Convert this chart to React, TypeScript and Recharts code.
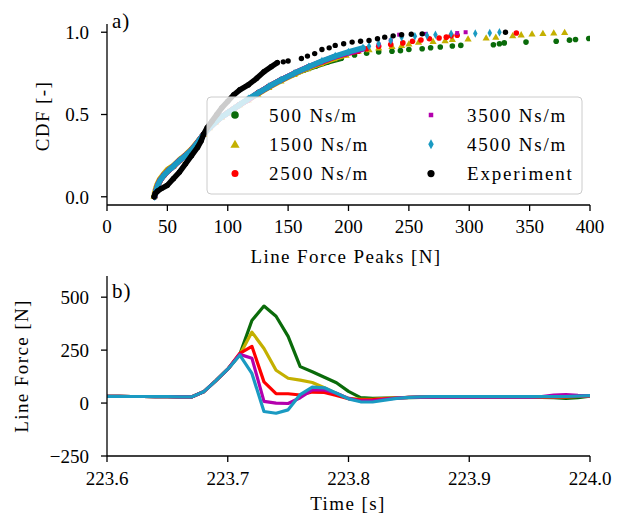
import React from 'react';
import { ScatterChart, Scatter, LineChart, Line, XAxis, YAxis } from 'recharts';

const FONT = '"Liberation Serif", "Times New Roman", serif';

const GREEN = '#0a6b0a';
const OLIVE = '#c4b000';
const RED = '#ff0000';
const MAGENTA = '#b300ad';
const CYAN = '#1a9ac2';
const BLACK = '#000000';

type Pt = [number, number];

// a) CDF of the line force peaks, [peak N, CDF -]
// dense lower part of each curve
const body500: Pt[] = [[39.5, 0], [40.5, 0.03], [42, 0.065], [44, 0.1], [47, 0.13], [51, 0.16], [55, 0.185], [60, 0.22], [65, 0.25], [70, 0.285], [75, 0.33], [80, 0.38], [85, 0.42], [90, 0.455], [95, 0.485], [100, 0.51], [105, 0.535], [110, 0.56], [117, 0.59], [125, 0.63], [134, 0.67], [144, 0.71], [153, 0.74], [163, 0.77], [173, 0.795], [183, 0.82], [194, 0.842]];
const body1500: Pt[] = [[39, 0.005], [40, 0.04], [41.5, 0.075], [43.5, 0.105], [46.5, 0.135], [50, 0.165], [55, 0.19], [60, 0.225], [65, 0.255], [70, 0.29], [75, 0.335], [80, 0.38], [85, 0.42], [90, 0.455], [95, 0.485], [100, 0.51], [105, 0.535], [110, 0.56], [117, 0.59], [125, 0.625], [134, 0.665], [144, 0.705], [155, 0.745], [166, 0.78], [177, 0.81], [188, 0.84], [198, 0.862]];
const body2500: Pt[] = [[39.5, 0], [40.5, 0.035], [42, 0.07], [44, 0.1], [47, 0.13], [51, 0.16], [55, 0.185], [60, 0.22], [65, 0.25], [70, 0.285], [75, 0.33], [80, 0.38], [85, 0.42], [90, 0.455], [95, 0.485], [100, 0.51], [105, 0.535], [110, 0.56], [117, 0.59], [125, 0.63], [134, 0.67], [144, 0.71], [155, 0.75], [167, 0.79], [178, 0.82], [188, 0.848], [198, 0.87], [208, 0.885]];
const body3500: Pt[] = [[39.5, 0], [40.5, 0.035], [42, 0.07], [44, 0.1], [47, 0.13], [51, 0.16], [55, 0.185], [60, 0.22], [65, 0.25], [70, 0.285], [75, 0.33], [80, 0.38], [85, 0.42], [90, 0.455], [95, 0.485], [100, 0.51], [105, 0.535], [110, 0.56], [117, 0.59], [125, 0.63], [134, 0.67], [144, 0.71], [155, 0.75], [167, 0.79], [178, 0.822], [188, 0.85], [200, 0.875], [212, 0.898]];
const body4500: Pt[] = [[39.5, 0], [40.5, 0.035], [42, 0.07], [44, 0.1], [47, 0.13], [51, 0.16], [55, 0.185], [60, 0.22], [65, 0.25], [70, 0.285], [75, 0.33], [80, 0.38], [85, 0.42], [90, 0.455], [95, 0.485], [100, 0.51], [105, 0.535], [110, 0.56], [117, 0.595], [125, 0.63], [134, 0.67], [144, 0.71], [155, 0.75], [167, 0.79], [178, 0.825], [189, 0.855], [200, 0.88], [212, 0.905]];
const bodyExp: Pt[] = [[39, 0], [40, 0.02], [42, 0.035], [45, 0.05], [50, 0.07], [55, 0.11], [60, 0.15], [65, 0.2], [70, 0.25], [75, 0.3], [78, 0.34], [80, 0.38], [83, 0.42], [87, 0.46], [91, 0.5], [95, 0.54], [100, 0.58], [105, 0.62], [110, 0.65], [117, 0.68], [124, 0.72], [130, 0.76], [136, 0.79], [141, 0.815]];

// sparse upper tails
const tail500: Pt[] = [[205, 0.862], [215, 0.872], [225, 0.88], [236, 0.884], [243, 0.888], [250, 0.895], [261, 0.9], [268, 0.906], [276, 0.91], [286, 0.916], [293, 0.92], [320, 0.924], [325, 0.93], [329, 0.935], [347, 0.94], [372, 0.945], [383, 0.952], [388, 0.956], [399, 0.962]];
const tail1500: Pt[] = [[208, 0.885], [217, 0.895], [225, 0.905], [236, 0.915], [244, 0.92], [250, 0.93], [258, 0.94], [270, 0.945], [280, 0.95], [286, 0.957], [299, 0.96], [314, 0.966], [322, 0.97], [336, 0.98], [343, 0.985], [352, 0.99], [361, 0.993], [370, 0.996], [379, 1.0]];
const tail2500: Pt[] = [[215, 0.9], [225, 0.915], [235, 0.925], [245, 0.935], [253, 0.945], [260, 0.953], [267, 0.96], [275, 0.965], [281, 0.97], [285, 0.978], [290, 0.982], [339, 0.995]];
const tail3500: Pt[] = [[225, 0.925], [235, 0.95], [242, 0.985], [264, 0.99], [290, 0.995], [297, 1.0]];
const tail4500: Pt[] = [[217, 0.915], [225, 0.93], [235, 0.95], [244, 0.97], [255, 0.975], [265, 0.98], [272, 0.985], [285, 0.99], [305, 0.993], [317, 0.996], [325, 1.0]];
const tailExp: Pt[] = [[146, 0.82], [150, 0.825], [161, 0.84], [166, 0.855], [172, 0.87], [178, 0.895], [184, 0.905], [189, 0.92], [196, 0.93], [203, 0.94], [210, 0.945], [217, 0.95], [224, 0.96], [230, 0.97], [237, 0.978], [244, 0.985], [252, 0.988], [261, 0.99], [330, 1.0]];

const peakTicks = [0, 50, 100, 150, 200, 250, 300, 350, 400];
const cdfTicks = [0, 0.5, 1];

// b) line force time series [s, N]
const times = [223.6, 223.61, 223.62, 223.63, 223.64, 223.65, 223.66, 223.67, 223.68, 223.69, 223.7, 223.71, 223.72, 223.73, 223.74, 223.75, 223.76, 223.77, 223.78, 223.79, 223.8, 223.81, 223.82, 223.83, 223.84, 223.85, 223.86, 223.87, 223.88, 223.89, 223.9, 223.91, 223.92, 223.93, 223.94, 223.95, 223.96, 223.97, 223.98, 223.99, 224.0];
const force500 = [32, 32, 31, 31, 30, 30, 29, 29, 53, 105, 160, 230, 390, 458, 410, 315, 172, 148, 122, 96, 55, 26, 22, 23, 25, 26, 27, 27, 27, 27, 27, 27, 27, 27, 27, 27, 27, 26, 22, 26, 33];
const force1500 = [32, 32, 31, 31, 30, 30, 29, 29, 53, 105, 160, 228, 335, 258, 155, 117, 108, 97, 72, 45, 22, 17, 18, 22, 25, 27, 28, 28, 28, 28, 28, 28, 28, 28, 28, 28, 28, 28, 29, 31, 34];
const force2500 = [32, 32, 31, 31, 30, 30, 29, 29, 53, 105, 160, 235, 268, 100, 45, 44, 38, 52, 50, 36, 20, 15, 16, 20, 24, 27, 28, 28, 28, 28, 28, 28, 28, 28, 28, 28, 28, 28, 29, 31, 34];
const force3500 = [32, 32, 31, 31, 30, 30, 29, 29, 53, 105, 160, 230, 212, 8, 0, -2, 25, 62, 62, 46, 22, 10, 10, 18, 23, 27, 28, 28, 28, 28, 28, 28, 28, 28, 28, 28, 30, 38, 40, 36, 35];
const force4500 = [32, 32, 31, 31, 30, 30, 29, 29, 53, 105, 160, 226, 140, -40, -48, -32, 40, 75, 72, 46, 20, 6, 5, 14, 22, 27, 29, 30, 30, 30, 30, 30, 30, 30, 30, 30, 30, 30, 31, 33, 35];

const timeTicks = [223.6, 223.7, 223.8, 223.9, 224.0];
const forceTicks = [-250, 0, 250, 500];

const toPts = (a: Pt[]) => a.map(([x, y]) => ({ x, y }));

const circle = (fill: string, r: number) => (p: any) => <circle cx={p.cx} cy={p.cy} r={r} fill={fill} />;
const triangle = (fill: string, s: number) => (p: any) => (
  <polygon points={`${p.cx},${p.cy - s} ${p.cx + s},${p.cy + s * 0.75} ${p.cx - s},${p.cy + s * 0.75}`} fill={fill} />
);
const square = (fill: string, s: number) => (p: any) => <rect x={p.cx - s / 2} y={p.cy - s / 2} width={s} height={s} fill={fill} />;
const diamond = (fill: string, w: number, h: number) => (p: any) => (
  <polygon points={`${p.cx},${p.cy - h / 2} ${p.cx + w / 2},${p.cy} ${p.cx},${p.cy + h / 2} ${p.cx - w / 2},${p.cy}`} fill={fill} />
);

const SERIES = [
  { name: '500 Ns/m', color: GREEN, body: body500, tail: tail500, mark: circle(GREEN, 2.8), key: circle(GREEN, 3.8) },
  { name: '1500 Ns/m', color: OLIVE, body: body1500, tail: tail1500, mark: triangle(OLIVE, 3.6), key: triangle(OLIVE, 4.6) },
  { name: '2500 Ns/m', color: RED, body: body2500, tail: tail2500, mark: circle(RED, 2.8), key: circle(RED, 3.5) },
  { name: '3500 Ns/m', color: MAGENTA, body: body3500, tail: tail3500, mark: square(MAGENTA, 4), key: square(MAGENTA, 4.5) },
  { name: '4500 Ns/m', color: CYAN, body: body4500, tail: tail4500, mark: diamond(CYAN, 4.5, 8.5), key: diamond(CYAN, 5.5, 10) },
  { name: 'Experiment', color: BLACK, body: bodyExp, tail: tailExp, mark: circle(BLACK, 2.7), key: circle(BLACK, 3.6) },
];

const forceRows = times.map((t, i) => ({
  t,
  f500: force500[i],
  f1500: force1500[i],
  f2500: force2500[i],
  f3500: force3500[i],
  f4500: force4500[i],
}));

const LINES = [
  { key: 'f500', color: GREEN },
  { key: 'f1500', color: OLIVE },
  { key: 'f2500', color: RED },
  { key: 'f3500', color: MAGENTA },
  { key: 'f4500', color: CYAN },
];

const tickStyle = { fill: '#000', fontSize: 19, fontFamily: FONT };
const spine = { stroke: '#000', strokeWidth: 1.3 };
const minus = (v: number) => (v < 0 ? '\u2212' + Math.abs(v) : String(v));

const legendRows = [
  [0, 3],
  [1, 4],
  [2, 5],
];

export default function App() {
  return (
    <div style={{ position: 'absolute', left: 0, top: 0, width: 617, height: 521, background: '#fff', fontFamily: FONT }}>
      <div style={{ position: 'absolute', left: 0, top: 0 }}>
        <ScatterChart width={617} height={262} margin={{ top: 24, right: 27, bottom: 27, left: 47 }}>
          <XAxis
            type="number"
            dataKey="x"
            domain={[0, 400]}
            ticks={peakTicks}
            allowDataOverflow
            tick={tickStyle}
            tickSize={6}
            tickMargin={9}
            axisLine={spine}
            tickLine={spine}
            height={30}
          />
          <YAxis
            type="number"
            dataKey="y"
            domain={[-0.05, 1.05]}
            ticks={cdfTicks}
            allowDataOverflow
            tickFormatter={(v: number) => v.toFixed(1)}
            tick={tickStyle}
            tickSize={6}
            tickMargin={12}
            axisLine={spine}
            tickLine={spine}
            width={60}
          />
          {SERIES.flatMap((s) => [
            <Scatter
              key={s.name + '-body'}
              data={toPts(s.body)}
              fill={s.color}
              shape={s.mark}
              line={{ stroke: s.color, strokeWidth: 5.5, strokeLinecap: 'round', strokeLinejoin: 'round' }}
              isAnimationActive={false}
            />,
            <Scatter key={s.name + '-tail'} data={toPts(s.tail)} fill={s.color} shape={s.mark} isAnimationActive={false} />,
          ])}
        </ScatterChart>
      </div>

      <div style={{ position: 'absolute', left: 0, top: 262 }}>
        <LineChart width={617} height={259} data={forceRows} margin={{ top: 14, right: 27, bottom: 35, left: 47 }}>
          <XAxis
            type="number"
            dataKey="t"
            domain={[223.6, 224.0]}
            ticks={timeTicks}
            allowDataOverflow
            tickFormatter={(v: number) => v.toFixed(1)}
            tick={tickStyle}
            tickSize={6}
            tickMargin={10}
            axisLine={spine}
            tickLine={spine}
            height={30}
          />
          <YAxis
            type="number"
            domain={[-250, 600]}
            ticks={forceTicks}
            allowDataOverflow
            tickFormatter={minus}
            tick={tickStyle}
            tickSize={6}
            tickMargin={12}
            axisLine={spine}
            tickLine={spine}
            width={60}
          />
          {LINES.map((l) => (
            <Line
              key={l.key}
              type="linear"
              dataKey={l.key}
              stroke={l.color}
              strokeWidth={3.2}
              dot={false}
              strokeLinejoin="round"
              isAnimationActive={false}
            />
          ))}
        </LineChart>
      </div>

      {/* labels and legend on top */}
      <svg width={617} height={521} style={{ position: 'absolute', left: 0, top: 0, pointerEvents: 'none' }}>
        <g fontFamily={FONT} fill="#000" fontSize={19}>
          <text x={112} y={28} fontSize={21} letterSpacing={1}>a)</text>
          <text x={112} y={298} fontSize={21} letterSpacing={1}>b)</text>
          <text x={346} y={263} textAnchor="middle" letterSpacing={1.4}>Line Force Peaks [N]</text>
          <text x={348} y={510} textAnchor="middle" letterSpacing={1.4}>Time [s]</text>
          <text transform="translate(49,116) rotate(-90)" textAnchor="middle" letterSpacing={1.4}>CDF [-]</text>
          <text transform="translate(28,366) rotate(-90)" textAnchor="middle" letterSpacing={1.4}>Line Force [N]</text>
        </g>

        <rect x={207} y={97} width={375} height={97} rx={4} fill="#fff" fillOpacity={0.8} stroke="#cccccc" strokeWidth={1} />
        {legendRows.map((pair, r) =>
          pair.map((si, c) => {
            const s = SERIES[si];
            const cy = 115 + r * 29.3;
            const mx = c === 0 ? 235 : 431;
            const tx = c === 0 ? 269 : 467;
            return (
              <g key={s.name}>
                {s.key({ cx: mx, cy })}
                <text x={tx} y={cy + 6.5} fontFamily={FONT} fontSize={19} letterSpacing={1.8} fill="#000">
                  {s.name}
                </text>
              </g>
            );
          })
        )}
      </svg>
    </div>
  );
}
